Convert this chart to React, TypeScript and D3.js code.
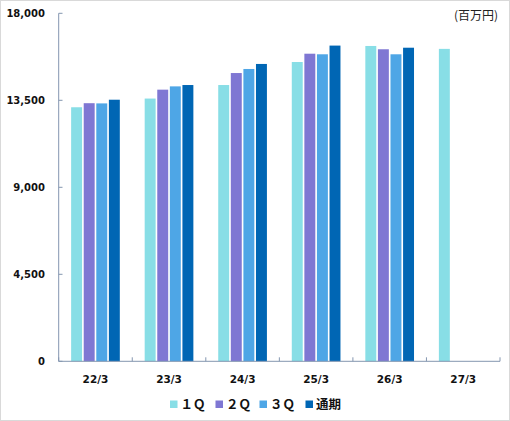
import * as React from 'react'
import * as d3 from 'd3'

const categories = ['22/3', '23/3', '24/3', '25/3', '26/3', '27/3']
const seriesNames = ['１Ｑ', '２Ｑ', '３Ｑ', '通期']
const q1 = [13140, 13590, 14290, 15480, 16310, 16160]
const q2 = [13350, 14050, 14910, 15910, 16140, null]
const q3 = [13340, 14220, 15120, 15880, 15880, null]
const fullYear = [13530, 14290, 15380, 16330, 16220, null]
const yTicks = [0, 4500, 9000, 13500, 18000]
const colors = ['#88dee6', '#7f77d3', '#4ea6e6', '#0066b4']

const W = 510
const H = 421
const axisColor = '#8496b0'
const numFont = '"DejaVu Sans", sans-serif'
const jpFont = '"Noto Sans CJK JP", sans-serif'

export default function App() {
    const series = [q1, q2, q3, fullYear]

    const x0 = d3.scaleBand<string>()
        .domain(categories)
        .range([58.7, 500])
        .paddingInner(0.338)
        .paddingOuter(0.169)

    const x1 = d3.scaleBand<string>()
        .domain(seriesNames)
        .range([0, x0.bandwidth()])
        .paddingInner(0.13)

    const y = d3.scaleLinear()
        .domain([0, 18000])
        .range([361.3, 13.3])

    const step = x0.step()
    const boundaries = d3.range(categories.length + 1).map(i => 58.7 + i * step)

    return (
        <svg width={W} height={H} style={{ position: 'absolute', left: 0, top: 0 }}>
            <rect x={0.5} y={0.5} width={W - 1} height={H - 1} fill='#fff' stroke='#d9d9d9' />

            {/* bars */}
            {categories.map((c, ci) => (
                <g key={c} transform={`translate(${x0(c)},0)`}>
                    {series.map((s, si) => {
                        const v = s[ci]
                        if (v == null) return null
                        return (
                            <rect key={si}
                                x={x1(seriesNames[si])}
                                y={y(v)}
                                width={x1.bandwidth()}
                                height={y(0) - y(v)}
                                fill={colors[si]} />
                        )
                    })}
                </g>
            ))}

            {/* y axis */}
            <line x1={58.7} x2={58.7} y1={y(18000)} y2={y(0)} stroke={axisColor} strokeWidth={1} />
            {yTicks.map(t => (
                <g key={t}>
                    <line x1={58.7} x2={62.5} y1={y(t)} y2={y(t)} stroke={axisColor} />
                    <text x={45} y={y(t)} dy='0.36em' textAnchor='end'
                        fontFamily={numFont} fontWeight='bold' fontSize={10} fill='#111'>
                        {d3.format(',')(t)}
                    </text>
                </g>
            ))}

            {/* x axis */}
            <line x1={58.7} x2={500} y1={y(0)} y2={y(0)} stroke={axisColor} strokeWidth={1} />
            {boundaries.map((b, i) => (
                <line key={i} x1={b} x2={b} y1={y(0)} y2={y(0) - 4} stroke={axisColor} />
            ))}
            {categories.map(c => (
                <text key={c} x={(x0(c) ?? 0) + x0.bandwidth() / 2} y={383.3} textAnchor='middle'
                    fontFamily={numFont} fontWeight='bold' fontSize={10.5} fill='#111'>
                    {c}
                </text>
            ))}

            {/* unit */}
            <text x={498} y={20} textAnchor='end' fontFamily={jpFont} fontSize={12} fill='#222'>(百万円)</text>

            {/* legend */}
            {seriesNames.map((n, i) => {
                const lx = [170, 215.5, 259.5, 305.5][i]
                return (
                    <g key={n}>
                        <rect x={lx} y={400.5} width={7.5} height={7.5} fill={colors[i]} />
                        <text x={lx + 10.5} y={409} fontFamily={jpFont} fontWeight='bold' fontSize={12.5} fill='#111'>
                            {n}
                        </text>
                    </g>
                )
            })}
        </svg>
    )
}
